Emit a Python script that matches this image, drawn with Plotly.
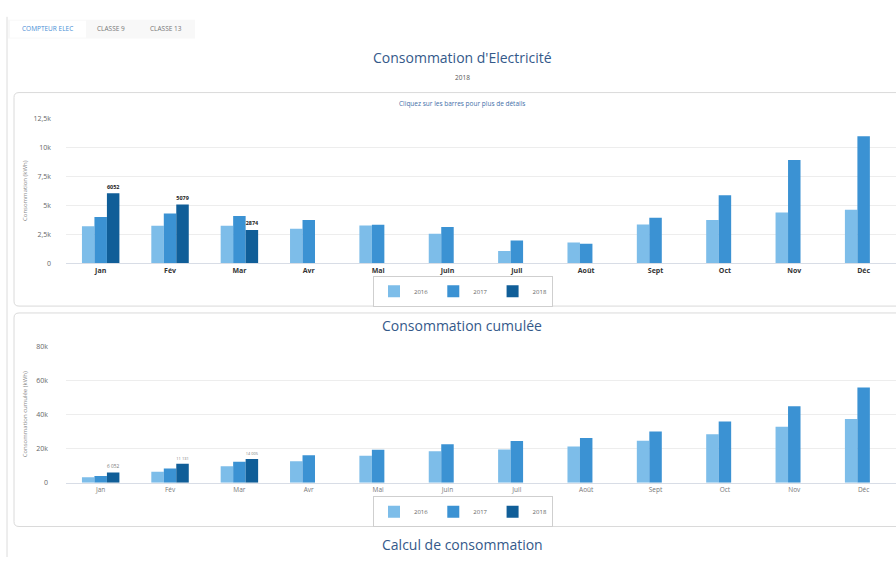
import plotly.graph_objects as go

# ---------------- data ----------------
months = ["Jan", "Fév", "Mar", "Avr", "Mai", "Juin", "Juil", "Août", "Sept", "Oct", "Nov", "Déc"]
years = ["2016", "2017", "2018"]

conso_2016 = [3200, 3240, 3240, 2985, 3270, 2560, 1070, 1800, 3350, 3745, 4390, 4620]
conso_2017 = [4000, 4310, 4080, 3745, 3320, 3130, 1970, 1690, 3945, 5885, 8930, 10985]
conso_2018 = [6052, 5079, 2874, None, None, None, None, None, None, None, None, None]

cumul_2016 = [3200, 6440, 9680, 12665, 15935, 18495, 19565, 21365, 24715, 28460, 32850, 37470]
cumul_2017 = [4000, 8310, 12390, 16135, 19455, 22585, 24555, 26245, 30190, 36075, 45005, 55990]
cumul_2018 = [6052, 11131, 14005, None, None, None, None, None, None, None, None, None]

top_tickvals = [0, 2500, 5000, 7500, 10000, 12500]
top_ticktext = ["0", "2,5k", "5k", "7,5k", "10k", "12,5k"]
bot_tickvals = [0, 20000, 40000, 60000, 80000]
bot_ticktext = ["0", "20k", "40k", "60k", "80k"]

colors = ["#7dbde9", "#3b92d3", "#105e98"]

W, H = 896, 561
FONT = "Open Sans"


def X(px):
    return px / W


def Y(py):
    return 1 - py / H


def fmt_top(v):
    return "" if v is None else str(v)


def fmt_bot(v):
    if v is None:
        return ""
    return f"{v:,}".replace(",", " ")


fig = go.Figure()

top_series = [conso_2016, conso_2017, conso_2018]
bot_series = [cumul_2016, cumul_2017, cumul_2018]

for i, (yr, vals) in enumerate(zip(years, top_series)):
    fig.add_trace(go.Bar(
        x=months, y=vals, name=yr, marker=dict(color=colors[i], line=dict(width=0)),
        xaxis="x", yaxis="y", legend="legend",
        text=[fmt_top(v) for v in vals] if i == 2 else None,
        textposition="outside" if i == 2 else None,
        textfont=dict(size=7, color="#222", family=FONT, weight="bold"),
        cliponaxis=False, hoverinfo="x+y+name",
    ))

for i, (yr, vals) in enumerate(zip(years, bot_series)):
    fig.add_trace(go.Bar(
        x=months, y=vals, name=yr, marker=dict(color=colors[i], line=dict(width=0)),
        xaxis="x2", yaxis="y2", legend="legend2",
        text=[fmt_bot(v) for v in vals] if i == 2 else None,
        textposition="outside" if i == 2 else None,
        textfont=dict(size=6.5, color="#777", family=FONT),
        cliponaxis=False, hoverinfo="x+y+name",
    ))

x_dom = [X(66), 1.0]
cat_w = 69.36
x_rng = [-0.5, -0.5 + (896 - 66) / cat_w]

axis_common = dict(showgrid=False, zeroline=False, showline=True, linecolor="#d8dde6",
                   linewidth=1, ticks="", fixedrange=True)
yaxis_common = dict(showgrid=True, gridcolor="#ededed", gridwidth=1, zeroline=False,
                    showline=False, ticks="", fixedrange=True,
                    tickfont=dict(size=7, color="#666", family=FONT))


def rounded_rect(x0, y0, x1, y1, r=5):
    rx, ry = r / W, r / H
    a0, a1 = X(x0), X(x1)
    b0, b1 = Y(y0), Y(y1)
    return (f"M {a0 + rx},{b0} L {a1 - rx},{b0} Q {a1},{b0} {a1},{b0 - ry} "
            f"L {a1},{b1 + ry} Q {a1},{b1} {a1 - rx},{b1} L {a0 + rx},{b1} "
            f"Q {a0},{b1} {a0},{b1 + ry} L {a0},{b0 - ry} Q {a0},{b0} {a0 + rx},{b0} Z")


shapes = [
    dict(type="line", xref="paper", yref="paper", x0=X(7), x1=X(7), y0=Y(12), y1=0,
         line=dict(color="#dcdcdc", width=1)),
    dict(type="rect", xref="paper", yref="paper", x0=X(8), x1=X(195), y0=Y(15), y1=Y(34),
         fillcolor="#f8f8f8", line=dict(width=0), layer="below"),
    dict(type="rect", xref="paper", yref="paper", x0=X(10), x1=X(86), y0=Y(16), y1=Y(33),
         fillcolor="#ffffff", line=dict(width=0), layer="below"),
    dict(type="path", xref="paper", yref="paper", path=rounded_rect(14, 89, 903, 306),
         line=dict(color="#dadada", width=1), layer="below"),
    dict(type="path", xref="paper", yref="paper", path=rounded_rect(14, 313, 903, 530),
         line=dict(color="#dadada", width=1), layer="below"),
]

title_color = "#34598a"
annotations = [
    dict(text="COMPTEUR ELEC", x=X(47), y=Y(24), font=dict(size=6.5, color="#4a8fd6", family=FONT)),
    dict(text="CLASSE 9", x=X(111), y=Y(24), font=dict(size=6.5, color="#777", family=FONT)),
    dict(text="CLASSE 13", x=X(166), y=Y(24), font=dict(size=6.5, color="#777", family=FONT)),
    dict(text="Consommation d'Electricité", x=X(462), y=Y(53), font=dict(size=14, color=title_color, family=FONT)),
    dict(text="2018", x=X(462), y=Y(74), font=dict(size=6.5, color="#555", family=FONT)),
    dict(text="Cliquez sur les barres pour plus de détails", x=X(462), y=Y(100),
         font=dict(size=6.5, color="#3f6fa8", family=FONT)),
    dict(text="Consommation (kWh)", x=X(25), y=Y(189), textangle=-90,
         font=dict(size=6, color="#888", family=FONT)),
    dict(text="Consommation cumulée", x=X(462), y=Y(326), font=dict(size=14, color=title_color, family=FONT)),
    dict(text="Consommation cumulée (kWh)", x=X(25), y=Y(416), textangle=-90,
         font=dict(size=6, color="#888", family=FONT)),
    dict(text="Calcul de consommation", x=X(462), y=Y(548), font=dict(size=14, color=title_color, family=FONT)),
]
for a in annotations:
    a.update(xref="paper", yref="paper", showarrow=False, xanchor="center", yanchor="middle")

legend_common = dict(orientation="h", xanchor="center", yanchor="middle", bgcolor="#ffffff",
                     bordercolor="#cfcfcf", borderwidth=1, itemwidth=30,
                     font=dict(size=6, color="#666", family=FONT), itemclick=False,
                     itemdoubleclick=False, tracegroupgap=0)

fig.update_layout(
    width=W, height=H, margin=dict(l=0, r=0, t=0, b=0), autosize=False,
    paper_bgcolor="#ffffff", plot_bgcolor="#ffffff",
    font=dict(family=FONT),
    barmode="group", bargap=0.46, bargroupgap=0.0,
    xaxis=dict(domain=x_dom, range=x_rng, anchor="y",
               tickfont=dict(size=7, color="#333", family=FONT, weight="bold"), **axis_common),
    yaxis=dict(domain=[Y(262.5), Y(115.5)], range=[0, 12500], anchor="x",
               tickvals=top_tickvals, ticktext=top_ticktext, ticklabelstandoff=14, **yaxis_common),
    xaxis2=dict(domain=x_dom, range=x_rng, anchor="y2",
                tickfont=dict(size=6.5, color="#777", family=FONT), **axis_common),
    yaxis2=dict(domain=[Y(485.5), Y(347.3)], range=[0, 80000], anchor="x2",
                tickvals=bot_tickvals, ticktext=bot_ticktext, ticklabelstandoff=17, **yaxis_common),
    legend=dict(x=X(463), y=Y(291), **legend_common),
    legend2=dict(x=X(463), y=Y(515), **legend_common),
    shapes=shapes,
    annotations=annotations,
)

fig.write_html("out.html")
